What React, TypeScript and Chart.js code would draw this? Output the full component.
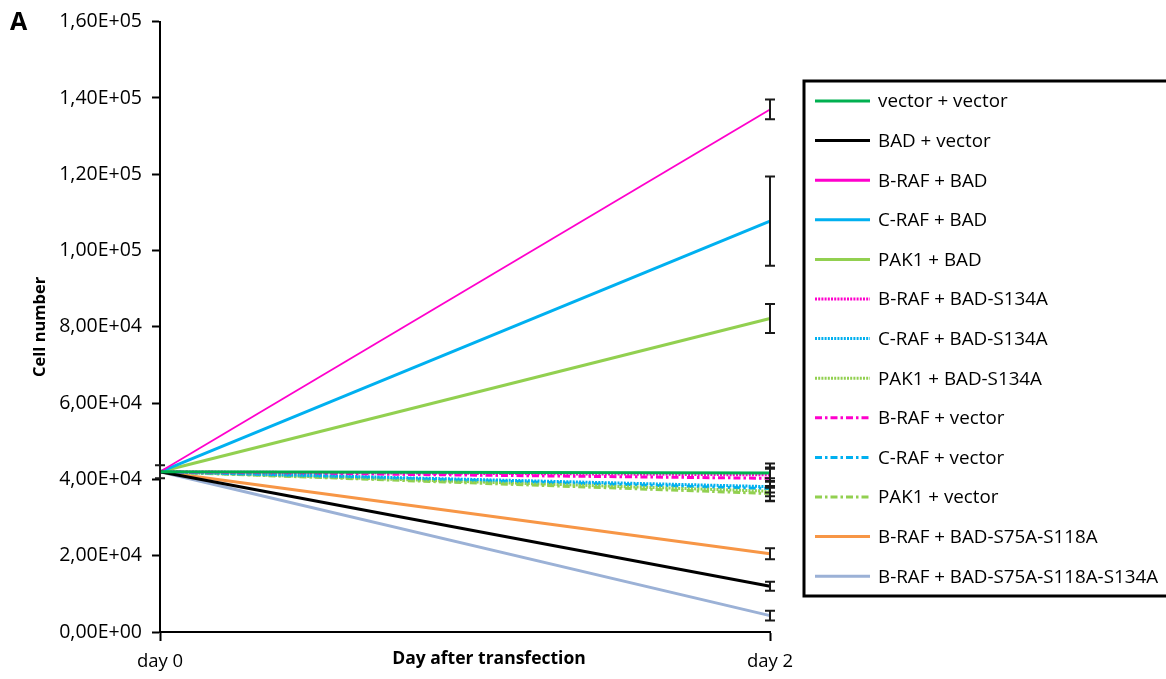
import React, { useEffect, useRef } from 'react';
import { Chart, registerables } from 'chart.js';
Chart.register(...registerables);

const FONT = '"Open Sans", "Liberation Sans", sans-serif';

// Categories (x axis)
const categories = ['day 0', 'day 2'];

// Series names (legend order)
const seriesNames = [
  'vector + vector',
  'BAD + vector',
  'B-RAF + BAD',
  'C-RAF + BAD',
  'PAK1 + BAD',
  'B-RAF + BAD-S134A',
  'C-RAF + BAD-S134A',
  'PAK1 + BAD-S134A',
  'B-RAF + vector',
  'C-RAF + vector',
  'PAK1 + vector',
  'B-RAF + BAD-S75A-S118A',
  'B-RAF + BAD-S75A-S118A-S134A',
];

// Series values (cell number at day 0, day 2)
const vectorVector = [42000, 41700];
const badVector = [42000, 12000];
const brafBad = [42000, 137000];
const crafBad = [42000, 107700];
const pak1Bad = [42000, 82200];
const brafS134A = [42000, 41200];
const crafS134A = [42000, 38100];
const pak1S134A = [42000, 36900];
const brafVector = [42000, 40300];
const crafVector = [42000, 37600];
const pak1Vector = [42000, 36300];
const brafS75S118 = [42000, 20500];
const brafS75S118S134 = [42000, 4300];

// Error bar half-ranges
const vectorVectorErr = [1700, 1400];
const badVectorErr = [0, 1200];
const brafBadErr = [0, 2600];
const crafBadErr = [0, 11700];
const pak1BadErr = [0, 3800];
const brafS134AErr = [0, 3000];
const crafS134AErr = [0, 1500];
const pak1S134AErr = [0, 2500];
const brafVectorErr = [0, 2500];
const crafVectorErr = [0, 2000];
const pak1VectorErr = [0, 2000];
const brafS75S118Err = [0, 1450];
const brafS75S118S134Err = [0, 1300];

// Y tick values
const yTicks = [0, 20000, 40000, 60000, 80000, 100000, 120000, 140000, 160000];

const seriesValues = [
  vectorVector, badVector, brafBad, crafBad, pak1Bad, brafS134A, crafS134A,
  pak1S134A, brafVector, crafVector, pak1Vector, brafS75S118, brafS75S118S134,
];
const seriesErrors = [
  vectorVectorErr, badVectorErr, brafBadErr, crafBadErr, pak1BadErr, brafS134AErr,
  crafS134AErr, pak1S134AErr, brafVectorErr, crafVectorErr, pak1VectorErr,
  brafS75S118Err, brafS75S118S134Err,
];

const MAGENTA = '#FF00CC';
const CYAN = '#00B0F0';
const LGREEN = '#92D050';
const DOT = [2, 1.2];
const DASHDOT = [7, 3, 2.5, 3];
const styles = [
  { color: '#00B050', width: 3, dash: [] },
  { color: '#000000', width: 3, dash: [] },
  { color: MAGENTA, width: 1.8, dash: [] },
  { color: CYAN, width: 3, dash: [] },
  { color: LGREEN, width: 3, dash: [] },
  { color: MAGENTA, width: 3, dash: DOT },
  { color: CYAN, width: 3, dash: DOT },
  { color: LGREEN, width: 3, dash: DOT },
  { color: MAGENTA, width: 3, dash: DASHDOT },
  { color: CYAN, width: 3, dash: DASHDOT },
  { color: LGREEN, width: 3, dash: DASHDOT },
  { color: '#F79646', width: 3, dash: [] },
  { color: '#9BB1D6', width: 3, dash: [] },
];

function fmtSci(v: number): string {
  if (v === 0) return '0,00E+00';
  const e = Math.floor(Math.log10(Math.abs(v)) + 1e-9);
  const m = v / Math.pow(10, e);
  return m.toFixed(2).replace('.', ',') + 'E+' + String(e).padStart(2, '0');
}

const errorBarPlugin = {
  id: 'errorBars',
  afterDatasetsDraw(chart: any) {
    const ctx = chart.ctx;
    const xs = chart.scales.x;
    const ys = chart.scales.y;
    ctx.save();
    ctx.strokeStyle = '#1a1a1a';
    ctx.lineWidth = 2;
    ctx.setLineDash([]);
    chart.data.datasets.forEach((ds: any, i: number) => {
      const errs = seriesErrors[i];
      ds.data.forEach((v: number, j: number) => {
        const e = errs[j];
        if (!e) return;
        const px = xs.getPixelForValue(j);
        const top = ys.getPixelForValue(v + e);
        const bot = ys.getPixelForValue(v - e);
        ctx.beginPath();
        ctx.moveTo(px, top);
        ctx.lineTo(px, bot);
        ctx.moveTo(px - 5, top);
        ctx.lineTo(px + 5, top);
        ctx.moveTo(px - 5, bot);
        ctx.lineTo(px + 5, bot);
        ctx.stroke();
      });
    });
    ctx.restore();
  },
};

const decorPlugin = {
  id: 'decor',
  afterDraw(chart: any) {
    const ctx = chart.ctx;
    ctx.save();
    // panel letter
    ctx.fillStyle = '#000';
    ctx.font = 'bold 25px ' + FONT;
    ctx.textBaseline = 'middle';
    ctx.textAlign = 'left';
    ctx.fillText('A', 10, 23);
    // x axis title
    ctx.font = 'bold 17.5px ' + FONT;
    ctx.textAlign = 'center';
    ctx.fillText('Day after transfection', 489, 659);
    // legend box
    const bx = 804, by = 81, bw = 370, bh = 515;
    ctx.lineWidth = 3;
    ctx.strokeStyle = '#000';
    ctx.strokeRect(bx, by, bw, bh);
    const rowTop = 101;
    const rowGap = 39.6;
    ctx.font = '18.8px ' + FONT;
    ctx.textAlign = 'left';
    chart.data.datasets.forEach((ds: any, i: number) => {
      const y = rowTop + i * rowGap;
      ctx.beginPath();
      ctx.strokeStyle = ds.borderColor;
      ctx.lineWidth = ds.borderWidth < 2 ? 3 : ds.borderWidth;
      ctx.setLineDash(ds.borderDash || []);
      ctx.moveTo(815, y);
      ctx.lineTo(870, y);
      ctx.stroke();
      ctx.setLineDash([]);
      ctx.fillStyle = '#000';
      ctx.fillText(ds.label, 878, y + 1);
    });
    ctx.restore();
  },
};

export default function App() {
  const ref = useRef<HTMLCanvasElement | null>(null);
  useEffect(() => {
    if (!ref.current) return;
    const chart = new Chart(ref.current, {
      type: 'line',
      data: {
        labels: categories,
        datasets: seriesNames.map((name, i) => ({
          label: name,
          data: seriesValues[i],
          borderColor: styles[i].color,
          backgroundColor: styles[i].color,
          borderWidth: styles[i].width,
          borderDash: styles[i].dash,
          pointRadius: 0,
          tension: 0,
          fill: false,
        })),
      },
      options: {
        responsive: false,
        animation: false,
        layout: { padding: { left: 0, top: 17, right: 396, bottom: 0 } },
        plugins: { legend: { display: false }, tooltip: { enabled: false } },
        scales: {
          x: {
            offset: false,
            afterFit: (s: any) => { s.height = 47; },
            border: { display: true, color: '#000', width: 2 },
            grid: { display: true, drawOnChartArea: false, drawTicks: true, tickLength: 9, tickColor: '#000', tickWidth: 2 },
            ticks: { color: '#000', font: { family: FONT, size: 18.5 }, padding: 10, maxRotation: 0 },
          },
          y: {
            min: 0,
            max: 160000,
            afterFit: (s: any) => { s.width = 160; },
            afterBuildTicks: (s: any) => { s.ticks = yTicks.map((v) => ({ value: v })); },
            border: { display: true, color: '#000', width: 2 },
            grid: { display: true, drawOnChartArea: false, drawTicks: true, tickLength: 8, tickColor: '#000', tickWidth: 2 },
            ticks: { color: '#000', font: { family: FONT, size: 19.5 }, padding: 10, callback: (v: any) => fmtSci(Number(v)) },
            title: { display: true, text: 'Cell number', color: '#000', font: { family: FONT, size: 16.5, weight: 'bold' }, padding: { top: 30, bottom: 0 } },
          },
        },
      },
      plugins: [errorBarPlugin, decorPlugin],
    } as any);
    return () => chart.destroy();
  }, []);
  return (
    <div style={{ position: 'absolute', left: 0, top: 0, width: 1166, height: 679, background: '#fff', overflow: 'hidden' }}>
      <canvas ref={ref} width={1166} height={679} style={{ display: 'block' }} />
    </div>
  );
}
